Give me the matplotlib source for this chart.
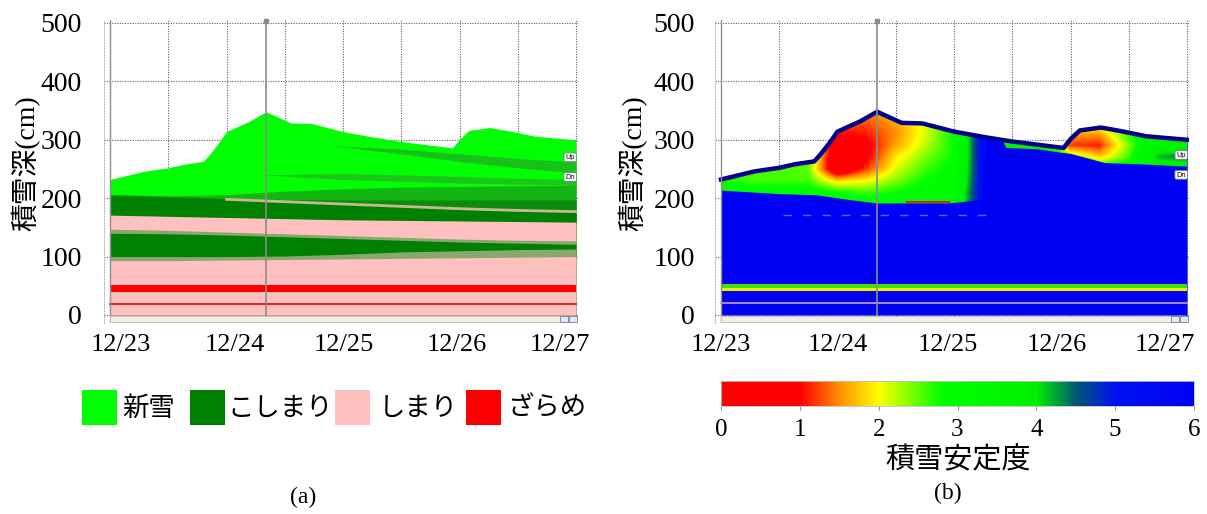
import numpy as np
import matplotlib.pyplot as plt
from matplotlib.colors import LinearSegmentedColormap, Normalize
from matplotlib.cm import ScalarMappable
from matplotlib.patches import Polygon, Rectangle

SERIF = ['Liberation Serif', 'Noto Sans CJK JP']
SANS = ['Noto Sans CJK JP', 'DejaVu Sans']
W, H = 1207, 514

# total snow depth (cm), time in days from 12/23 00:00
depth_t = [0, 0.29, 0.5, 0.63, 0.8, 0.85, 0.93, 1.0, 1.19, 1.34, 1.55,
           1.73, 2.0, 2.25, 2.5, 2.94, 3.0, 3.08, 3.26, 3.43, 3.65, 4.0]
depth = [232, 246, 252, 258, 263, 274, 294, 314, 331, 348, 329,
         328, 314, 305, 297, 286, 301, 316, 321, 315, 306, 300]

dates = ['12/23', '12/24', '12/25', '12/26', '12/27']

# snow type layer tops (cm) for panel (a), every 12 h
layer_t = [0, 0.5, 1.0, 1.5, 2.0, 2.5, 3.0, 3.5, 4.0]
pink1_top = [93, 93, 94, 95, 96, 97, 98, 99, 100]
olive1_top = [100, 100, 100, 101, 104, 108, 110, 112, 113]
kosi1_top = [140, 139, 137, 134, 131, 128, 125, 123, 121]
olive2_top = [147, 145, 142, 139, 136, 133, 130, 128, 127]
pink2_top = [171, 169, 167, 165, 163, 162, 161, 160, 159]
kosi2_top = [204, 201, 198, 194, 190, 186, 182, 179, 177]
kosi3_top = [206, 203, 200, 198, 197, 197, 197, 197, 197]
mid_top = [206, 204, 206, 212, 216, 219, 220, 221, 222]
zarame_band = (40, 52)
zarame_line = 19

# darker streaks inside the new snow
streak1_t = [1.3, 2.0, 2.5, 3.0, 3.5, 4.0]
streak1_lo = [240, 232, 229, 226, 224, 222]
streak1_hi = [240, 242, 240, 237, 234, 232]
streak2_t = [1.9, 2.5, 3.0, 3.5, 4.0]
streak2_lo = [290, 276, 263, 252, 243]
streak2_hi = [290, 284, 276, 268, 262]

# stability index on a coarse grid (rows: height, cols: time)
stab_t = [0, 0.25, 0.5, 0.75, 1.0, 1.25, 1.5, 1.75, 2.0, 2.25, 2.5, 2.75,
          3.0, 3.25, 3.5, 3.75, 4.0]
stab_z = [190, 210, 230, 250, 270, 290, 310, 330, 350]
stability = [
    [3.2, 3.2, 3.2, 3.2, 3.0, 3.0, 3.1, 3.1, 3.3, 5.3, 6, 6, 6, 6, 6, 6, 6],
    [3.1, 3.0, 3.0, 3.0, 2.8, 2.6, 2.8, 3.0, 3.2, 5.3, 6, 6, 6, 6, 6, 6, 6],
    [2.8, 2.6, 2.6, 2.6, 1.8, 2.0, 2.4, 2.8, 3.0, 5.3, 6, 6, 6, 6, 6, 6, 6],
    [2.7, 2.6, 2.6, 2.5, 0.3, 1.2, 2.1, 2.6, 2.9, 5.3, 6, 6, 6, 3.0, 3.2, 3.5, 3.5],
    [3.0, 3.0, 3.0, 2.6, 0.3, 0.9, 1.9, 2.4, 2.8, 5.3, 4.5, 5.0, 2.5, 1.8, 2.6, 4.2, 4.4],
    [3.0, 3.0, 3.0, 2.6, 0.6, 0.9, 1.6, 2.2, 2.8, 5.3, 3.4, 3.3, 1.2, 1.1, 2.4, 3.6, 3.6],
    [3.0, 3.0, 3.0, 2.6, 1.0, 1.1, 1.5, 2.1, 2.8, 5.3, 3.4, 3.3, 1.6, 1.6, 2.7, 3.3, 3.2],
    [3.0, 3.0, 3.0, 2.6, 1.3, 1.3, 1.6, 2.1, 2.9, 5.3, 3.4, 3.3, 2.4, 2.4, 3.0, 3.3, 3.2],
    [3.0, 3.0, 3.0, 2.6, 1.3, 1.5, 1.8, 2.2, 2.9, 5.3, 3.4, 3.3, 2.5, 2.5, 3.0, 3.3, 3.2],
]
# bottom of the low-stability new snow in panel (b)
base_t = [0, 0.5, 0.82, 1.1, 1.34, 1.96, 2.24, 2.28, 2.42, 2.45, 2.7, 2.95,
          3.0, 3.3, 3.6, 4.0]
base = [213, 207, 205, 197, 191, 191, 197, 304, 298, 286, 284, 277,
        276, 260, 258, 254]

cursor_day = 1.34
legend_labels = ['新雪', 'こしまり', 'しまり', 'ざらめ']

C_NEW = '#00ff00'
C_KOSI = '#008000'
C_SHIMA = '#ffc0c0'
C_ZARA = '#ff0000'
C_OLIVE = '#88a870'
BLUE = '#0000f5'
NAVY = '#00008c'

cmap = LinearSegmentedColormap.from_list('stab', [
    (0, '#ff0000'), (1 / 6, '#ff0000'), (1.5 / 6, '#ff9000'),
    (2 / 6, '#ffff00'), (2.8 / 6, '#00ff00'), (4 / 6, '#00f000'),
    (4.5 / 6, '#005a70'), (5 / 6, '#0010f0'), (1, BLUE)])


def place(l, t, r, b):
    return [l / W, 1 - b / H, (r - l) / W, (b - t) / H]


def style_axes(ax, date_pos, ypad):
    ax.set_xlim(-0.0515, 4.017)
    ax.set_ylim(-13.7, 505.1)
    ax.set_xticks(date_pos)
    ax.set_xticklabels(dates, family=SERIF, size=19)
    ax.set_xticks(np.arange(0, 4.01, 0.5), minor=True)
    ax.set_yticks([0, 100, 200, 300, 400, 500])
    ax.set_yticklabels(['0', '100', '200', '300', '400', '500'],
                       family=SERIF, size=20)
    ax.tick_params(axis='x', which='both', length=0, pad=8)
    ax.tick_params(axis='y', length=0, pad=ypad)
    ax.grid(False)
    ax.grid(True, axis='x', which='minor', color='#606060', lw=0.8,
            linestyle=(0, (1, 1.3)))
    ax.grid(True, axis='y', which='major', color='#606060', lw=0.8,
            linestyle=(0, (1, 1.3)))
    ax.set_axisbelow(True)
    for sp in ax.spines.values():
        sp.set_visible(False)
    ax.spines['left'].set_visible(True)
    ax.spines['left'].set_color('#b8b8b8')
    ax.spines['left'].set_linestyle(':')
    ax.axvline(0, color='#909090', lw=1.0, zorder=6)
    ax.axvline(cursor_day, color='#8c8c8c', lw=1.2, zorder=6)
    ax.plot(cursor_day, 503, marker='s', ms=3, color='#8c8c8c',
            clip_on=False, zorder=6)
    # scroll bar under the profile
    ax.add_patch(Rectangle((0, -12.5), 4, 11, fc='#f5f1e6', ec='#c8c4b8',
                           lw=0.8, zorder=6))
    for x0 in (3.86, 3.94):
        ax.add_patch(Rectangle((x0, -11.5), 0.07, 9, fc='#e4e8f0',
                               ec='#7080a0', lw=0.6, zorder=7))


def up_dn(ax, y_up, y_dn):
    for y, s in ((y_up, 'Up'), (y_dn, 'Dn')):
        ax.text(3.95, y, s, fontsize=5, ha='center', va='center', zorder=8,
                bbox=dict(boxstyle='round,pad=0.2', fc='white', ec='#708090',
                          lw=0.6))


fig = plt.figure(figsize=(W / 100, H / 100), dpi=100)

# (a) snow type profile
ax_a = fig.add_axes(place(104, 20, 578, 323))
ax_a.fill_between(depth_t, 0, depth, color=C_NEW, lw=0, zorder=2)
ax_a.fill_between(streak1_t, streak1_lo, streak1_hi, color='#1cc41c', lw=0, zorder=2)
ax_a.fill_between(streak2_t, streak2_lo, streak2_hi, color='#26a626', lw=0,
                  alpha=0.7, zorder=2)
ax_a.fill_between(layer_t, 0, mid_top, color='#14b414', lw=0, zorder=2)
ax_a.fill_between(layer_t, 0, kosi3_top, color='#0c8c0c', lw=0, zorder=2)
ax_a.fill_between(layer_t, 0, kosi2_top, color=C_KOSI, lw=0, zorder=2)
ax_a.plot(layer_t[2:], kosi2_top[2:], color='#c8b890', lw=2, zorder=2)
ax_a.fill_between(layer_t, 0, pink2_top, color=C_SHIMA, lw=0, zorder=2)
ax_a.fill_between(layer_t, 0, olive2_top, color=C_OLIVE, lw=0, zorder=2)
ax_a.fill_between(layer_t, 0, kosi1_top, color=C_KOSI, lw=0, zorder=2)
ax_a.fill_between(layer_t, 0, olive1_top, color=C_OLIVE, lw=0, zorder=2)
ax_a.fill_between(layer_t, 0, pink1_top, color=C_SHIMA, lw=0, zorder=2)
ax_a.fill_between([0, 4], *zarame_band, color=C_ZARA, lw=0, zorder=2)
ax_a.plot([0, 4], [zarame_line, zarame_line], color='#d03030', lw=1.5, zorder=2)
style_axes(ax_a, [0.09, 1.07, 2.01, 2.98, 3.86], 16)
up_dn(ax_a, 270, 236)

# (b) stability profile
ax_b = fig.add_axes(place(715, 20, 1189, 323))
ax_b.fill_between(depth_t, 0, depth, color=BLUE, lw=0, zorder=2)
im = ax_b.imshow(stability, extent=(-0.125, 4.125, 180, 360), origin='lower',
                 aspect='auto', interpolation='bilinear', cmap=cmap,
                 vmin=0, vmax=6, zorder=3)
clip = Polygon(list(zip(depth_t, depth)) + list(zip(base_t, base))[::-1],
               closed=True, transform=ax_b.transData)
im.set_clip_path(clip)
ax_b.plot(depth_t, depth, color=NAVY, lw=3.2, zorder=4)
ax_b.fill_between([0, 4], 41, 47, color='#f0f000', lw=0, zorder=3)
ax_b.fill_between([0, 4], 47, 53, color='#40e000', lw=0, zorder=3)
ax_b.plot([0, 4], [20.5, 20.5], color='#c8a0c0', lw=1.2, zorder=3)
ax_b.plot([0.53, 2.3], [171, 171], color='#3c78e8', lw=1.0,
          linestyle=(0, (6, 8)), zorder=3)
ax_b.plot([1.6, 1.96], [193, 193], color='#e02020', lw=1.5, zorder=4)
style_axes(ax_b, [0.0, 1.0, 1.95, 2.88, 3.81], 14.5)
up_dn(ax_b, 274, 240)

# axis titles
for x in (25.5, 633):
    fig.text(x / W, 1 - 163.5 / H, '積雪深(cm)', rotation=90, ha='center',
             va='center', family=SERIF, size=20)

# legend for snow types
sq_x = [82, 190, 335, 466]
txt_x = [122, 227, 379, 507]
for sx, tx, lab, col in zip(sq_x, txt_x, legend_labels,
                            [C_NEW, C_KOSI, C_SHIMA, C_ZARA]):
    fig.add_artist(Rectangle((sx / W, 1 - 425 / H), 35 / W, 35 / H,
                             transform=fig.transFigure, fc=col, lw=0))
    fig.text(tx / W, 1 - 408 / H, lab, ha='left', va='center', family=SANS,
             size=19)

# stability colour bar
cax = fig.add_axes(place(721, 381, 1194, 406))
cb = fig.colorbar(ScalarMappable(Normalize(0, 6), cmap), cax=cax,
                  orientation='horizontal')
cb.set_ticks(range(7))
cb.ax.set_xticklabels([str(i) for i in range(7)], family=SERIF, size=18)
cb.ax.tick_params(length=3, color='#909090', pad=6)
cb.outline.set_edgecolor('#c0c0c0')
cb.outline.set_linewidth(0.6)
fig.text(958 / W, 1 - 460 / H, '積雪安定度', ha='center', va='center',
         family=SANS, size=21)

fig.text(303 / W, 1 - 497 / H, '(a)', ha='center', va='center', family=SERIF,
         size=17)
fig.text(948 / W, 1 - 493 / H, '(b)', ha='center', va='center', family=SERIF,
         size=17)

fig.savefig('out.png', dpi=100, facecolor='white')
